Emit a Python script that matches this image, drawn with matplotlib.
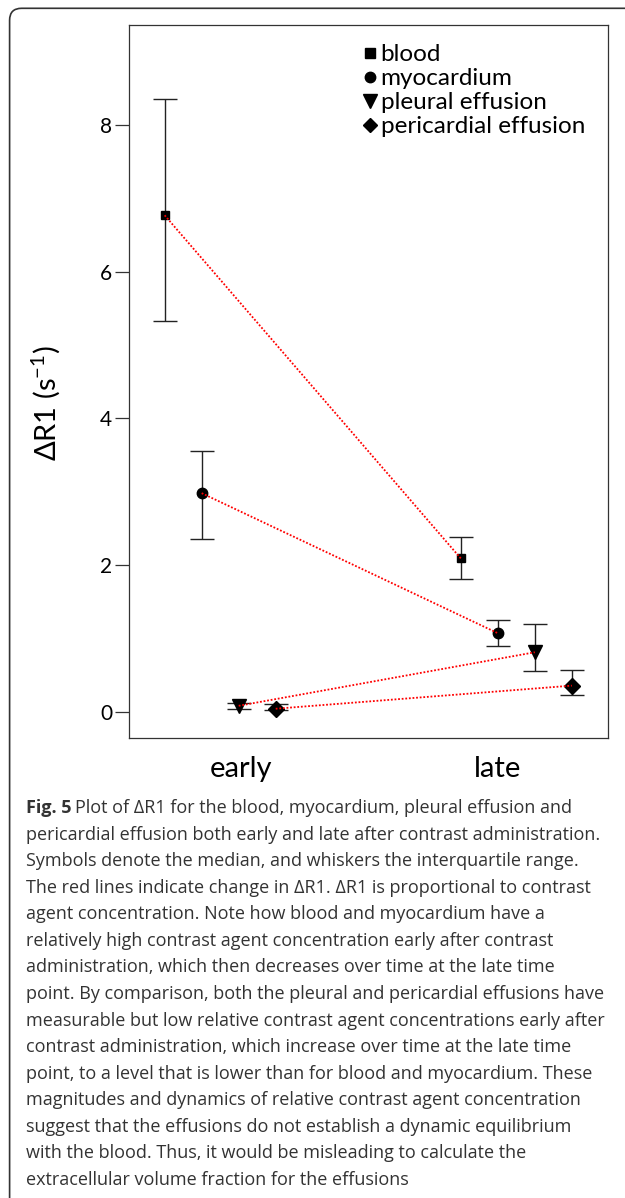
import matplotlib
matplotlib.use("Agg")
import matplotlib.pyplot as plt
from matplotlib.lines import Line2D
from matplotlib.patches import FancyBboxPatch
from matplotlib.transforms import IdentityTransform

plt.rcParams['font.family'] = ['Lato', 'DejaVu Sans']
plt.rcParams['mathtext.default'] = 'regular'

# median and interquartile range of delta R1 (1/s)
tissues = ['blood', 'myocardium', 'pleural effusion', 'pericardial effusion']
time_points = ['early', 'late']
median_early = [6.77, 2.98, 0.08, 0.04]
median_late = [2.09, 1.07, 0.81, 0.355]
q1_early = [5.33, 2.36, 0.03, 0.02]
q3_early = [8.35, 3.55, 0.12, 0.10]
q1_late = [1.81, 0.90, 0.56, 0.23]
q3_late = [2.38, 1.25, 1.20, 0.57]
y_ticks = [0, 2, 4, 6, 8]

caption = [
    "pericardial effusion both early and late after contrast administration.",
    "Symbols denote the median, and whiskers the interquartile range.",
    "The red lines indicate change in ΔR1. ΔR1 is proportional to contrast",
    "agent concentration. Note how blood and myocardium have a",
    "relatively high contrast agent concentration early after contrast",
    "administration, which then decreases over time at the late time",
    "point. By comparison, both the pleural and pericardial effusions have",
    "measurable but low relative contrast agent concentrations early after",
    "contrast administration, which increase over time at the late time",
    "point, to a level that is lower than for blood and myocardium. These",
    "magnitudes and dynamics of relative contrast agent concentration",
    "suggest that the effusions do not establish a dynamic equilibrium",
    "with the blood. Thus, it would be misleading to calculate the",
    "extracellular volume fraction for the effusions",
]

markers = ['s', 'o', 'v', 'D']
sizes = [6.2, 7.5, 10, 8.2]
legend_sizes = [7, 7.5, 9.5, 7.5]
step = 0.125

fig = plt.figure(figsize=(6.25, 11.98), dpi=100)
ax = fig.add_axes([0.2059, 0.3840, 0.7666, 0.5951])

for i, name in enumerate(tissues):
    xs = [t + (i - 1.5) * step for t in range(len(time_points))]
    med = [median_early[i], median_late[i]]
    lo = [med[0] - q1_early[i], med[1] - q1_late[i]]
    hi = [q3_early[i] - med[0], q3_late[i] - med[1]]
    ax.errorbar(xs, med, yerr=[lo, hi], fmt=markers[i], color='black', ms=sizes[i],
                ecolor='#222222', elinewidth=1.0, capsize=8.6, capthick=1.0, zorder=2)
    # red change line over the medians
    ax.plot(xs, med, color='red', lw=1.3, ls=(0, (1, 1)), zorder=3)

ax.set_xlim(-0.309, 1.309)
ax.set_ylim(-0.359, 9.365)
ax.set_yticks(y_ticks)
ax.set_yticklabels([str(v) for v in y_ticks], fontsize=15)
ax.set_xticks([0.07, 0.935])
ax.set_xticklabels(time_points, fontsize=21)
ax.tick_params(axis='x', length=0, pad=13)
ax.tick_params(axis='y', length=10, width=0.9, color='#333333', pad=2)
for sp in ax.spines.values():
    sp.set_color('#333333')
    sp.set_linewidth(0.9)

ax.set_ylabel('ΔR1 (s$^{-1}$)', fontsize=21)
ax.yaxis.set_label_coords(-0.139, 0.47)

handles = [Line2D([], [], marker=m, ls='none', color='black', ms=s)
           for m, s in zip(markers, legend_sizes)]
ax.legend(handles, tissues, loc='upper left', bbox_to_anchor=(0.488, 0.973),
          frameon=False, fontsize=17.5, handlelength=0.6, handletextpad=0.15,
          labelspacing=0.125, borderpad=0, borderaxespad=0)

# outer frame of the figure panel
frame = FancyBboxPatch((9.6, -30), 700, 1198 - 8.3 + 30,
                       boxstyle="round,pad=0,rounding_size=12",
                       transform=IdentityTransform(), fill=False,
                       edgecolor='#333333', linewidth=1.2)
fig.add_artist(frame)

# caption
cap_kw = dict(fontsize=12.95, family=['Open Sans', 'DejaVu Sans'], color='#333333', va='center')
y0 = 808
dy = 26.57
x0 = 25.5 / 625
t = fig.text(x0, 1 - y0 / 1198, "Fig. 5", fontweight='bold', **cap_kw)
fig.canvas.draw()
ext = t.get_window_extent(fig.canvas.get_renderer())
fig.text(ext.x1 / 625 + 0.007, 1 - y0 / 1198,
         "Plot of ΔR1 for the blood, myocardium, pleural effusion and", **cap_kw)
for k, line in enumerate(caption):
    fig.text(x0, 1 - (y0 + (k + 1) * dy) / 1198, line, **cap_kw)

fig.savefig('out.png', dpi=100)
